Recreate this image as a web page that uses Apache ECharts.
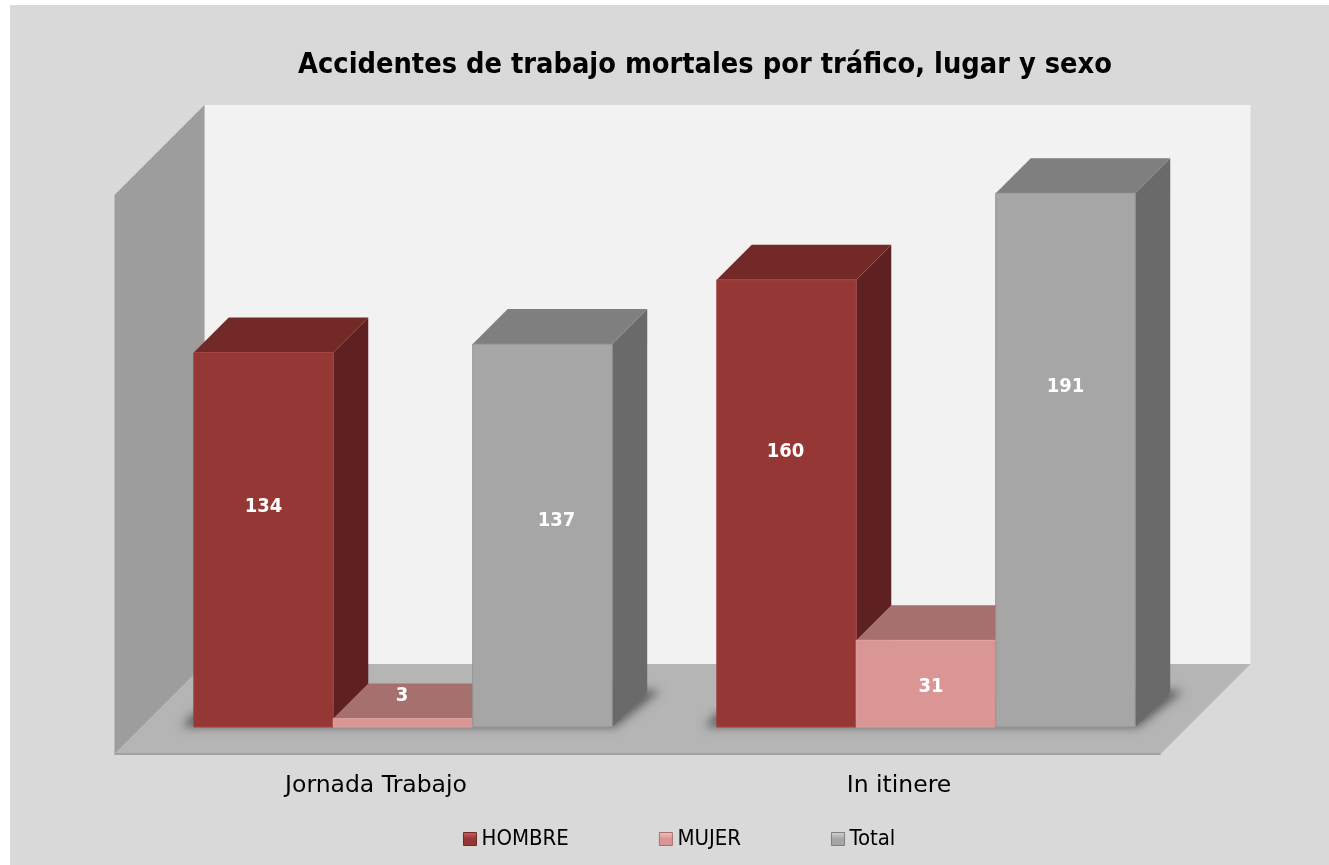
<!DOCTYPE html>
<html><head><meta charset="utf-8">
<style>html,body{margin:0;padding:0;background:#fff;width:1329px;height:865px;overflow:hidden}
#bg{position:absolute;left:10px;top:5px;right:0;bottom:0;background:#d9d9d9}
#c{position:absolute;left:0;top:0;width:1329px;height:865px}</style>
<script src="https://cdn.jsdelivr.net/npm/echarts@6/dist/echarts.min.js"></script>
</head><body><div id="bg"></div><div id="c"></div>
<script>
const categories = ['Jornada Trabajo', 'In itinere'];
const hombre = [134, 160];
const mujer = [3, 31];
const total = [137, 191];
const seriesNames = ['HOMBRE', 'MUJER', 'Total'];
const chartTitle = 'Accidentes de trabajo mortales por tráfico, lugar y sexo';

const FONT = '"DejaVu Sans"';
const FONT_COND = '"DejaVu Sans Condensed"';
const DEPTH = 35, FRONT_GAP = 27, BACK_GAP = 63;
const BAR_RATIO = 0.2667;
const palette = [
  {front:'#953735', top:'#722927', side:'#5e2020', edge:'#a04644', hi:'#c96361'},
  {front:'#d99694', top:'#a6706e', side:'#a6706e', edge:'#e3a3a1', hi:'#efc2c0'},
  {front:'#a6a6a6', top:'#7f7f7f', side:'#6a6a6a', edge:'#929292', hi:'#d6d6d6'}
];
// pixel nudges of the value labels, as placed in the reference: [dx, dy] from the front-face centre
const labelNudge = [
  [[0,-33],[-1,-52]],
  [[-1,-27],[5,3]],
  [[14,-15],[0,-73]]
];
const OFF = 3000;

function poly(points, fill, extra){
  return Object.assign({type:'polygon', shape:{points}, style:{fill}}, extra||{});
}
function wallsItem(params, api){
  const cs = params.coordSys;
  const xL = cs.x, xR = cs.x + cs.width;
  const y0 = api.coord([0, 0])[1];
  const yT = api.coord([0, 200])[1];
  const fl = xL - FRONT_GAP, fr = xR - FRONT_GAP, fb = y0 + FRONT_GAP;
  const bl = xL + BACK_GAP, br = xR + BACK_GAP, bb = y0 - BACK_GAP;
  const top = yT - BACK_GAP, ftop = top + (BACK_GAP + FRONT_GAP);
  return {type:'group', children:[
    poly([[bl,top],[br,top],[br,bb],[bl,bb]], '#f2f2f2'),
    poly([[fl,ftop],[bl,top],[bl,bb],[fl,fb]], '#9d9d9d'),
    poly([[fl,fb],[bl,bb],[br,bb],[fr,fb]], '#b5b5b5'),
    {type:'line', shape:{x1:fl,y1:fb,x2:fr,y2:fb}, style:{stroke:'#a2a2a2',lineWidth:2}}
  ]};
}
function shadowItem(params, api){
  const band = api.size([1,0])[0];
  const c = api.coord([api.value(0), 0]);
  const half = band * BAR_RATIO * 1.5;
  const x0 = c[0]-half, x1 = c[0]+half, y = c[1];
  // only the blurred shadow lands on the floor: the shape itself sits off the canvas
  const pts = [[x0-12,y],[x1+3,y],[x1+DEPTH+13,y-DEPTH-1],[x1,y-DEPTH-4],[x0,y-14]].map(p=>[p[0]-OFF,p[1]]);
  return {type:'polygon', shape:{points:pts},
    style:{fill:'#000',shadowBlur:10,shadowOffsetX:OFF,shadowColor:'rgba(60,60,60,0.7)'}};
}
function barItem(idx){
  return function(params, api){
    const i = api.value(0), v = api.value(1);
    const band = api.size([1,0])[0];
    const w = band * BAR_RATIO;
    const c = api.coord([i, 0]), t = api.coord([i, v]);
    const x0 = c[0] + (idx-1.5)*w, x1 = x0 + w, yb = c[1], yt = t[1];
    const p = palette[idx];
    const nudge = labelNudge[idx][i];
    return {type:'group', children:[
      poly([[x1,yb],[x1+DEPTH,yb-DEPTH],[x1+DEPTH,yt-DEPTH],[x1,yt]], p.side),
      poly([[x0,yt],[x0+DEPTH,yt-DEPTH],[x1+DEPTH,yt-DEPTH],[x1,yt]], p.top),
      {type:'rect', shape:{x:x0,y:yt,width:w,height:yb-yt}, style:{fill:p.front,stroke:p.edge,lineWidth:1}},
      {type:'text', z2:50, x:(x0+x1)/2+nudge[0], y:(yb+yt)/2+nudge[1],
        style:{text:String(v), fill:'#fff', font:'bold 20px '+FONT_COND, align:'center', verticalAlign:'middle'}}
    ]};
  };
}
const rows = arr => arr.map((v,i)=>[i,v]);
const option = {
  animation:false,
  backgroundColor:'transparent',
  title:{text:chartTitle,left:700,top:46,textAlign:'center',
    textStyle:{fontFamily:FONT_COND,fontWeight:'bold',fontSize:28.7,color:'#000'}},
  grid:{left:141.5,width:1046,top:168,height:559},
  xAxis:{type:'category',data:categories,axisLine:{show:false},axisTick:{show:false},
    axisLabel:{fontFamily:FONT,fontSize:23.5,color:'#000',margin:47,padding:[0,54,0,0]}},
  yAxis:{type:'value',min:0,max:200,show:false},
  legend:{left:458,top:823,itemWidth:13,itemHeight:13,itemGap:90,icon:'rect',
    textStyle:{fontFamily:FONT_COND,fontSize:22,color:'#000'},
    data:seriesNames.map((n,k)=>({name:n,itemStyle:{
      color:{type:'linear',x:0,y:0,x2:0,y2:1,colorStops:[{offset:0,color:palette[k].hi},{offset:0.5,color:palette[k].front},{offset:1,color:palette[k].front}]},
      borderColor:palette[k].top,borderWidth:1}}))},
  series:[
    {type:'custom',name:'walls',silent:true,z:1,data:[[0,0]],encode:{x:0,y:1},renderItem:wallsItem},
    {type:'custom',name:'shadow',silent:true,z:2,data:rows(total),encode:{x:0,y:1},renderItem:shadowItem},
    {type:'custom',name:seriesNames[0],z:3,data:rows(hombre),encode:{x:0,y:1},itemStyle:{color:palette[0].front},renderItem:barItem(0)},
    {type:'custom',name:seriesNames[1],z:4,data:rows(mujer),encode:{x:0,y:1},itemStyle:{color:palette[1].front},renderItem:barItem(1)},
    {type:'custom',name:seriesNames[2],z:5,data:rows(total),encode:{x:0,y:1},itemStyle:{color:palette[2].front},renderItem:barItem(2)}
  ]
};
echarts.init(document.getElementById('c'),null,{renderer:'canvas'}).setOption(option);
</script></body></html>
